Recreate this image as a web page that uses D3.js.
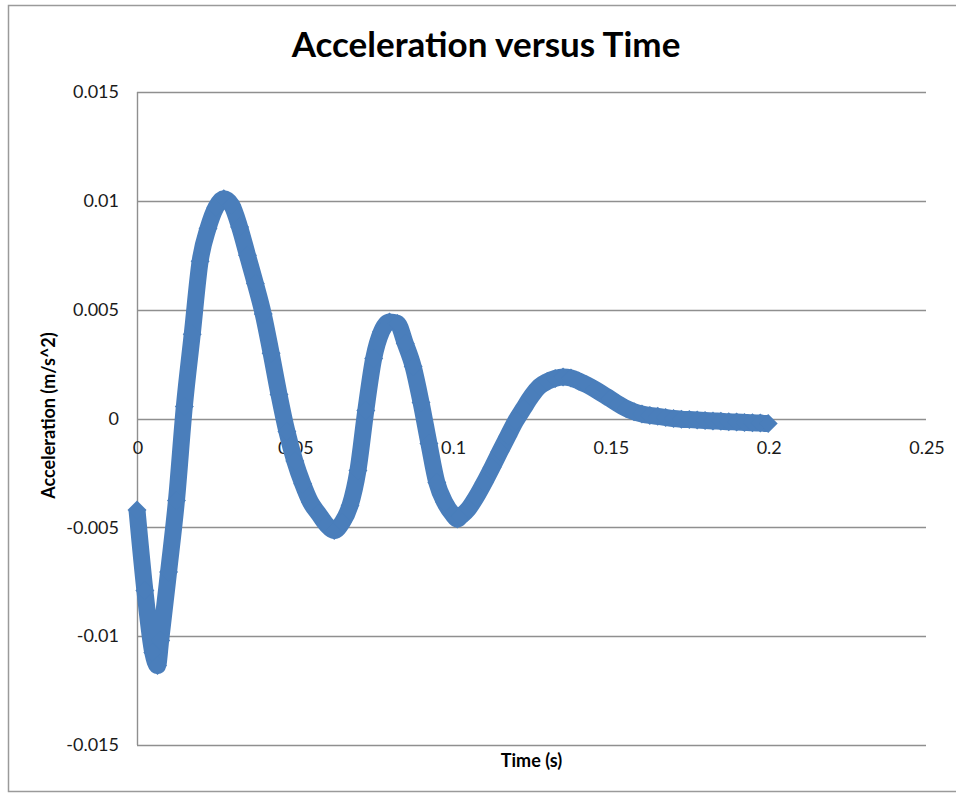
<!DOCTYPE html>
<html>
<head>
<meta charset="utf-8">
<script src="https://cdn.jsdelivr.net/npm/d3@7/dist/d3.min.js"></script>
<style>
  html, body { margin: 0; padding: 0; background: #fff; }
  svg { display: block; }
  text { font-family: Lato, "Open Sans", "Noto Sans", sans-serif; }
</style>
</head>
<body>
<svg id="chart" width="956" height="796"></svg>
<script>
// Measured acceleration of the damped response
const time = [
  0, 0.0025, 0.005, 0.0065, 0.0075, 0.01, 0.0125, 0.015, 0.0175, 0.02,
  0.0225, 0.025, 0.0275, 0.03, 0.0325, 0.035, 0.0375, 0.04, 0.0425, 0.045,
  0.0475, 0.05, 0.0525, 0.055, 0.0575, 0.06, 0.0625, 0.065, 0.0675, 0.07,
  0.0725, 0.075, 0.0775, 0.08, 0.0825, 0.085, 0.0875, 0.09, 0.0925, 0.095,
  0.0975, 0.1, 0.1015, 0.1025, 0.105, 0.1075, 0.11, 0.1125, 0.115, 0.1175,
  0.12, 0.1225, 0.125, 0.1275, 0.13, 0.1325, 0.135, 0.1375, 0.14, 0.1425,
  0.145, 0.1475, 0.15, 0.1525, 0.155, 0.1575, 0.16, 0.1625, 0.165, 0.1675,
  0.17, 0.1725, 0.175, 0.1775, 0.18, 0.1825, 0.185, 0.1875, 0.19, 0.1925,
  0.195, 0.1975, 0.2
];
const acceleration = [
  -0.0042, -0.0079, -0.01075, -0.01135, -0.0102, -0.00705, -0.00377, 0.00055, 0.00387, 0.00722,
  0.00873, 0.0097, 0.0101, 0.0098, 0.0088, 0.0075, 0.0062, 0.0048, 0.0030, 0.0011,
  -0.0006, -0.00195, -0.00300, -0.00385, -0.00437, -0.00487, -0.00515, -0.00478, -0.0040, -0.00239,
  0.00037, 0.00276, 0.0040, 0.00443, 0.00437, 0.00345, 0.00239, 0.00074, -0.00115, -0.00294,
  -0.00385, -0.0044, -0.00462, -0.0045, -0.00415, -0.0036, -0.00295, -0.00225, -0.00152, -0.00081,
  -0.00011, 0.00047, 0.00103, 0.00147, 0.0017, 0.00184, 0.00191, 0.00186, 0.00172, 0.00155,
  0.00135, 0.00113, 0.0009, 0.00067, 0.00046, 0.00031, 0.00021, 0.00014, 0.0001, 0.00005,
  0, -0.00003, -0.00005, -0.00007, -0.00009, -0.00011, -0.00013, -0.00015, -0.00016, -0.00018,
  -0.0002, -0.00021, -0.00023
];

const xTickValues = [0, 0.05, 0.1, 0.15, 0.2, 0.25];
const xTickLabels = ["0", "0.05", "0.1", "0.15", "0.2", "0.25"];
const yTickValues = [0.015, 0.01, 0.005, 0, -0.005, -0.01, -0.015];
const yTickLabels = ["0.015", "0.01", "0.005", "0", "-0.005", "-0.01", "-0.015"];

const chartTitle = "Acceleration versus Time";
const xTitle = "Time (s)";
const yTitle = "Acceleration (m/s^2)";

const plot = { left: 137, right: 926, top: 92, bottom: 745 };
const seriesColor = "#4a7ebb";
const gridColor = "#8f8f8f";

const svg = d3.select("#chart");

// Outer chart frame
svg.append("rect")
  .attr("x", 8.5).attr("y", 5.5)
  .attr("width", 1000).attr("height", 786)
  .attr("fill", "#fff")
  .attr("stroke", "#9a9a9a").attr("stroke-width", 1.5);

const x = d3.scaleLinear().domain([0, 0.25]).range([plot.left, plot.right]);
const y = d3.scaleLinear().domain([-0.015, 0.015]).range([plot.bottom, plot.top]);

// Horizontal gridlines
svg.append("g")
  .selectAll("line")
  .data(yTickValues)
  .join("line")
  .attr("x1", plot.left).attr("x2", plot.right)
  .attr("y1", d => Math.round(y(d)) + 0.5).attr("y2", d => Math.round(y(d)) + 0.5)
  .attr("stroke", gridColor).attr("stroke-width", 1.4);

// Vertical axis line
svg.append("line")
  .attr("x1", Math.round(x(0)) + 0.5).attr("x2", Math.round(x(0)) + 0.5)
  .attr("y1", plot.top).attr("y2", plot.bottom)
  .attr("stroke", gridColor).attr("stroke-width", 1.4);

// Y tick labels
svg.append("g")
  .selectAll("text")
  .data(yTickValues)
  .join("text")
  .attr("x", plot.left - 18)
  .attr("y", d => y(d))
  .attr("dy", "0.35em")
  .attr("text-anchor", "end")
  .attr("font-size", 18)
  .attr("fill", "#1a1a1a")
  .text((d, i) => yTickLabels[i]);

// X tick labels sit just under the zero line
svg.append("g")
  .selectAll("text")
  .data(xTickValues)
  .join("text")
  .attr("x", d => x(d) + 1)
  .attr("y", y(0) + 29)
  .attr("dy", "0.35em")
  .attr("text-anchor", "middle")
  .attr("font-size", 18)
  .attr("fill", "#1a1a1a")
  .text((d, i) => xTickLabels[i]);

// Series: thick connecting line plus diamond markers
const points = time.map((t, i) => ({ t, a: acceleration[i] }));
const line = d3.line()
  .x(d => x(d.t))
  .y(d => y(d.a))
  .curve(d3.curveMonotoneX);

svg.append("path")
  .datum(points)
  .attr("d", line)
  .attr("fill", "none")
  .attr("stroke", seriesColor)
  .attr("stroke-width", 17)
  .attr("stroke-linejoin", "round");

const diamond = d3.symbol().type(d3.symbolSquare).size(180);
svg.append("g")
  .selectAll("path")
  .data(points)
  .join("path")
  .attr("d", diamond)
  .attr("transform", d => `translate(${x(d.t)},${y(d.a)}) rotate(45)`)
  .attr("fill", seriesColor);

// Titles
svg.append("text")
  .attr("x", 486).attr("y", 45)
  .attr("dy", "0.35em")
  .attr("text-anchor", "middle")
  .attr("font-size", 35).attr("font-weight", 700)
  .attr("fill", "#000")
  .text(chartTitle);

svg.append("text")
  .attr("x", (plot.left + plot.right) / 2).attr("y", 761)
  .attr("dy", "0.35em")
  .attr("text-anchor", "middle")
  .attr("font-size", 18).attr("font-weight", 700)
  .attr("fill", "#000")
  .text(xTitle);

svg.append("text")
  .attr("transform", `translate(49, ${(plot.top + plot.bottom) / 2 - 3}) rotate(-90)`)
  .attr("dy", "0.35em")
  .attr("text-anchor", "middle")
  .attr("font-size", 18).attr("font-weight", 700)
  .attr("fill", "#000")
  .text(yTitle);
</script>
</body>
</html>
